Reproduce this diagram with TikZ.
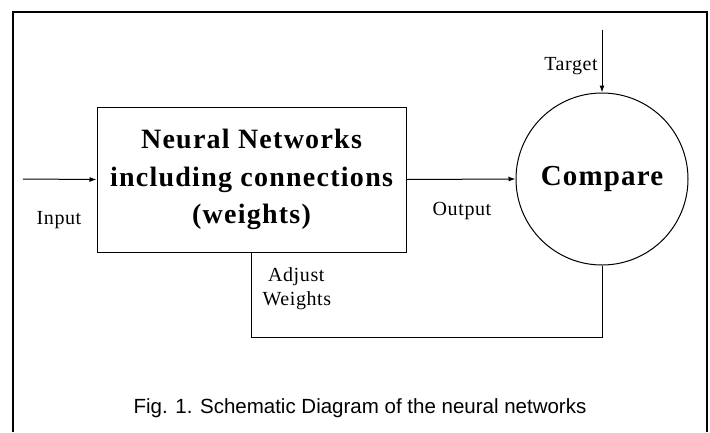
\documentclass[tikz,border=0pt]{standalone}
\usepackage{fontspec}
\setmainfont{Liberation Serif}
\newfontfamily\capfont{Liberation Sans}
\usepackage{tikz}
\usetikzlibrary{positioning,shapes,arrows.meta}

\begin{document}
\begin{tikzpicture}[x=1pt,y=-1pt,
  line width=1pt,
  block/.style={draw,rectangle,minimum width=309pt,minimum height=145pt,inner sep=0pt,align=center,
    font=\fontsize{28}{37.5}\selectfont\bfseries\addfontfeature{LetterSpace=4.5}},
  cmpnode/.style={draw,circle,minimum size=172pt,inner sep=0pt,
    font=\fontsize{29}{34}\selectfont\bfseries\addfontfeature{LetterSpace=4}},
  lbl/.style={inner sep=0pt,anchor=base,font=\fontsize{20}{24}\selectfont\addfontfeature{LetterSpace=3}},
  sig/.style={-{Latex[length=7pt,width=5pt]}}]
\useasboundingbox (0,0) rectangle (710,432);
% frame
\draw[line width=1.3pt] (13,432) -- (13,12) -- (707,12) -- (707,432);
% blocks
\node[block] (nn) at (251.5,179.5) {Neural Networks\\including connections\\(weights)};
\node[cmpnode] (cmp) at (602,179) {Compare};
% signals
\coordinate (in) at (23,179);
\coordinate (tg) at (602,30);
\draw[sig] (in) -- (nn.west);
\draw[sig] (nn.east) -- (cmp.west);
\draw[sig] (tg) -- (cmp.north);
\draw (cmp.south) -- ++(0,72) -| (nn.south);
% labels
\node[lbl] (inlbl) at (59,224) {Input};
\node[lbl] (outlbl) at (462,215) {Output};
\node[lbl] (tglbl) at (571,70) {Target};
\node[lbl,anchor=base west,align=left] (adj) at (262,305) {\ Adjust\\Weights};
% caption
\node[inner sep=0pt,anchor=base,font=\capfont\fontsize{20.5}{24}\selectfont] (cap) at (360,413)
  {Fig. 1. Schematic Diagram of the neural networks};
\end{tikzpicture}
\end{document}
